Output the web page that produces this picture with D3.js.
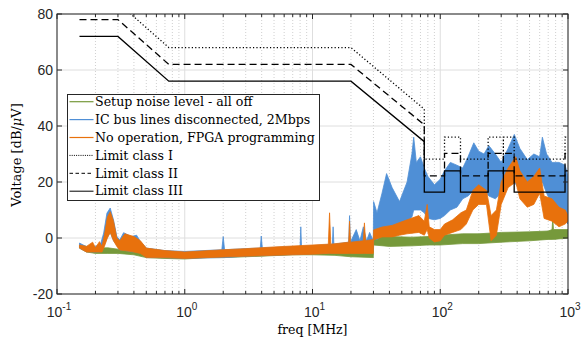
<!DOCTYPE html>
<html>
<head>
<meta charset="utf-8">
<script src="https://cdn.jsdelivr.net/npm/d3@7"></script>
<style>
  body { margin: 0; background: #fff; }
  svg { display: block; }
  .tick-label { font-family: "Liberation Sans", Arial, sans-serif; font-size: 14px; fill: #262626; }
  .serif { font-family: "DejaVu Serif", "Liberation Serif", serif; fill: #000; }
</style>
</head>
<body>
<svg id="chart" width="581" height="341"></svg>
<script>
// setup noise level (envelope: low / high edge of the trace)
const greenFreq = [0.15, 0.17, 0.2, 0.25, 0.3, 0.4, 0.5, 0.7, 1, 1.5, 2, 3, 5, 7, 10, 15, 20, 29.9, 30.1, 40, 60, 80, 100, 150, 200, 300, 500, 700, 750, 760, 770, 1000];
const greenLo = [-3.6, -5, -5.5, -5.5, -5.5, -6, -7, -7.3, -7.5, -7, -7, -6.7, -6.3, -6, -6, -6.2, -6.7, -7, -2.5, -3, -2.8, -2.5, -2.5, -2, -2, -1.5, -1, -0.5, -0.5, -0.5, -0.5, 0];
const greenHi = [-2.5, -3, -3.6, -3.5, -4, -4.5, -5, -5.5, -5.5, -5, -4.7, -4.2, -3.8, -3.5, -3.3, -3.3, -3.5, -3.8, 0.5, 0.5, 0.3, 0.5, 1, 1.5, 1.5, 2, 2.2, 2.5, 3, 7, 3, 3];

// IC bus lines disconnected, 2Mbps
const blueFreq = [0.15, 0.17, 0.2, 0.22, 0.232, 0.246, 0.261, 0.277, 0.294, 0.31, 0.332, 0.38, 0.42, 0.45, 0.5, 0.7, 1, 1.95, 2, 2.05, 3, 3.9, 3.97, 4.05, 6, 8, 8.1, 8.2, 12, 14.3, 14.5, 14.7, 19.2, 19.5, 19.8, 22, 23.5, 25, 26.5, 28, 29.9,
  30.1, 32, 35, 38, 42, 48, 55, 60, 62, 65, 70, 75, 80, 90, 100, 108, 120, 135, 150, 165, 183, 200, 220, 240, 270, 300, 340, 380, 420, 480, 540, 600, 630, 680, 750, 850, 950, 1000];
const blueLo = [-3.6, -4.9, -5, -4.9, -3, 0, 2, -1, -2.5, -4.3, -4.3, -4.9, -4.9, -5, -7, -7, -7.3, -7, -7, -7, -6.5, -6.3, -6.3, -6.3, -6, -5.8, -5.8, -5.8, -5.5, -5.3, -5.3, -5.3, -5, -5, -5, -5, -5, -5, -5, -5, -4.5,
  0, -0.5, 1, 4, 4, 4, 6, 7.5, 10, 10, 10, 9, 7, 6.5, 7, 8, 10, 11, 14, 15, 17, 18, 17, 15, 14, 16, 19, 20, 17, 16, 16, 18, 20, 16, 12, 8, 6, 5];
const blueHi = [-1.8, -3.1, -3, -2, 1.8, 8.9, 10.7, 6.4, 0.5, -0.7, 1.9, 0.5, 1, -1.3, -3.6, -4.5, -4.8, -4.2, 0.5, -4.2, -3.8, -3.6, 0.7, -3.6, -3.2, -3, 4, -3, -2.5, -2.2, 4, -2.2, -1.5, 8, -1.5, 3, -1, 4, -1, 2, -1,
  13, 9, 16, 23, 18, 13, 20, 30, 36, 27, 29, 25, 22, 19, 21, 24, 27, 26, 25, 29, 34, 31, 30, 33, 30, 27, 32, 37, 32, 28, 30, 29, 36, 30, 27, 27, 26, 22];

// No operation, FPGA programming
const orangeFreq = [0.15, 0.17, 0.19, 0.2, 0.215, 0.225, 0.235, 0.248, 0.261, 0.277, 0.294, 0.31, 0.34, 0.4, 0.45, 0.5, 0.7, 1, 2, 3, 5, 10, 13.3, 13.6, 13.9, 19.2, 19.5, 19.8, 25, 25.5, 26, 29.9,
  30.1, 35, 42, 48, 55, 68, 75, 79, 82, 90, 100, 108, 125, 145, 160, 180, 200, 230, 250, 275, 300, 340, 390, 420, 480, 540, 600, 650, 750, 850, 950, 1000];
const orangeLo = [-3.6, -5, -5, -5, -5, -5, -3, 0, 2, -1, -3, -4.3, -4.5, -5, -5.5, -7, -7, -7.3, -6.8, -6.5, -6.2, -5.8, -5.5, -5.5, -5.5, -5.5, -5.5, -5.5, -5.5, -5.5, -5.5, -5.5,
  -0.7, 0.4, 0.4, 1, 1.5, 2, 1, 3, 0, -1.4, -1, 1, 2, 3, 5, 10, 12, 12, -1, 1, 12, 18, 20, 14, 11, 12, 16, 7, 6, 4, 5, 6];
const orangeHi = [-2.5, -3, -1.5, -3.5, -1.3, -3, 1, 7.5, 9.4, 6, 0, -1, 1.5, 0.5, -1, -3.6, -4.5, -5, -4.2, -3.8, -3.2, -2.5, -2.2, 9, -2.2, -1.5, 6, -1.5, -1, 5.4, -1, -0.5,
  2.9, 3.9, 4.5, 5.5, 6.5, 8, 6, 12, 4, 3, 3, 5, 6.5, 9, 10, 17, 19, 17, 8, 10, 20, 25, 29, 24, 20, 22, 25, 15, 14, 11, 10, 8];

// limit classes (step mask)
const limitFreq = [0.15, 0.3, 0.75, 20, 75, 75, 108, 108, 144, 144, 237, 237, 312, 312, 312, 379, 379, 948, 948, 1000];
const limitI = [84, 84, 68, 68, 46, 28.2, 28.2, 36, 36, 28.2, 28.2, 36, 36, 28.2, 36, 36, 28.2, 28.2, 36, 36];
const limitII = [78, 78, 62, 62, 40.4, 22.2, 22.2, 30.2, 30.2, 22.2, 22.2, 30.2, 30.2, 22.2, 30.2, 30.2, 22.2, 22.2, 30.2, 30.2];
const limitIII = [72, 72, 56, 56, 34.4, 16.4, 16.4, 24, 24, 16.4, 16.4, 24, 24, 16.4, 24, 24, 16.4, 16.4, 24, 24];

const yTicks = [-20, 0, 20, 40, 60, 80];

const series = [
  { name: 'Setup noise level - all off', color: '#76993b', f: greenFreq, lo: greenLo, hi: greenHi },
  { name: 'IC bus lines disconnected, 2Mbps', color: '#4f8fd6', f: blueFreq, lo: blueLo, hi: blueHi },
  { name: 'No operation, FPGA programming', color: '#e8710c', f: orangeFreq, lo: orangeLo, hi: orangeHi },
];
const limits = [
  { name: 'Limit class I', v: limitI, dash: '1.2,2.2', legendDash: '1,1.2' },
  { name: 'Limit class II', v: limitII, dash: '7,4', legendDash: '3.5,2.5' },
  { name: 'Limit class III', v: limitIII, dash: null, legendDash: null },
];

const width = 581, height = 341;
const margin = { top: 14, right: 13, bottom: 47, left: 57 };
const innerWidth = width - margin.left - margin.right;
const innerHeight = height - margin.top - margin.bottom;

const svg = d3.select('#chart');
const grp = svg.append('g').attr('transform', `translate(${margin.left},${margin.top})`);

const xScale = d3.scaleLog().domain([0.1, 1000]).range([0, innerWidth]);
const yScale = d3.scaleLinear().domain([-20, 80]).range([innerHeight, 0]);

svg.append('defs').append('clipPath').attr('id', 'plot-clip')
  .append('rect').attr('width', innerWidth).attr('height', innerHeight);

// grid
const xAll = xScale.ticks();
const isMajor = (f) => Math.abs(Math.log10(f) - Math.round(Math.log10(f))) < 1e-9;
grp.append('g').selectAll('line')
  .data(xAll.filter((f) => !isMajor(f)))
  .enter().append('line')
  .attr('x1', (d) => xScale(d)).attr('x2', (d) => xScale(d))
  .attr('y1', 0).attr('y2', innerHeight)
  .attr('stroke', '#c4c4c4').attr('stroke-width', 0.8).attr('stroke-dasharray', '1,2');
grp.append('g').selectAll('line')
  .data(xAll.filter(isMajor))
  .enter().append('line')
  .attr('x1', (d) => xScale(d)).attr('x2', (d) => xScale(d))
  .attr('y1', 0).attr('y2', innerHeight)
  .attr('stroke', '#dedede').attr('stroke-width', 1);
grp.append('g').selectAll('line')
  .data(yTicks)
  .enter().append('line')
  .attr('x1', 0).attr('x2', innerWidth)
  .attr('y1', (d) => yScale(d)).attr('y2', (d) => yScale(d))
  .attr('stroke', '#dedede').attr('stroke-width', 1);

// measured traces
const plot = grp.append('g').attr('clip-path', 'url(#plot-clip)');
const band = d3.area()
  .x((d) => xScale(d.f))
  .y0((d) => yScale(d.lo))
  .y1((d) => yScale(d.hi));

series.forEach((s) => {
  const rows = s.f.map((f, i) => ({ f: f, lo: s.lo[i], hi: s.hi[i] }));
  plot.append('path')
    .datum(rows)
    .attr('d', band)
    .attr('fill', s.color)
    .attr('stroke', s.color)
    .attr('stroke-width', 0.8)
    .attr('stroke-linejoin', 'round');
});

// limit lines
const limitLine = d3.line()
  .x((d) => xScale(d[0]))
  .y((d) => yScale(d[1]));

limits.forEach((l) => {
  plot.append('path')
    .datum(limitFreq.map((f, i) => [f, l.v[i]]))
    .attr('d', limitLine)
    .attr('fill', 'none')
    .attr('stroke', '#000')
    .attr('stroke-width', 1.3)
    .attr('stroke-dasharray', l.dash);
});

// axes box + ticks (inside)
const axisColor = '#262626';
grp.append('rect')
  .attr('width', innerWidth).attr('height', innerHeight)
  .attr('fill', 'none').attr('stroke', axisColor).attr('stroke-width', 1);

const xt = grp.append('g');
xAll.forEach((f) => {
  const len = isMajor(f) ? 5 : 3;
  const px = xScale(f);
  xt.append('line').attr('x1', px).attr('x2', px).attr('y1', innerHeight).attr('y2', innerHeight - len).attr('stroke', axisColor);
  xt.append('line').attr('x1', px).attr('x2', px).attr('y1', 0).attr('y2', len).attr('stroke', axisColor);
});
yTicks.forEach((v) => {
  const py = yScale(v);
  xt.append('line').attr('x1', 0).attr('x2', 5).attr('y1', py).attr('y2', py).attr('stroke', axisColor);
  xt.append('line').attr('x1', innerWidth).attr('x2', innerWidth - 5).attr('y1', py).attr('y2', py).attr('stroke', axisColor);
});

// tick labels
grp.append('g').selectAll('text')
  .data(yTicks)
  .enter().append('text')
  .attr('class', 'tick-label')
  .attr('x', -4)
  .attr('y', (d) => yScale(d))
  .attr('dy', '0.36em')
  .attr('text-anchor', 'end')
  .text((d) => d);

const xl = grp.append('g').selectAll('text')
  .data(xAll.filter(isMajor))
  .enter().append('text')
  .attr('class', 'tick-label')
  .attr('x', (d) => xScale(d) + 2)
  .attr('y', innerHeight + 22.5)
  .attr('text-anchor', 'middle');
xl.append('tspan').text('10');
xl.append('tspan')
  .attr('dy', -6.5)
  .attr('font-size', '10px')
  .text((d) => Math.round(Math.log10(d)));

// axis labels
svg.append('text')
  .attr('class', 'serif')
  .attr('x', margin.left + innerWidth / 2)
  .attr('y', 334)
  .attr('text-anchor', 'middle')
  .attr('font-size', '12.5px')
  .text('freq [MHz]');

const yl = svg.append('text')
  .attr('class', 'serif')
  .attr('transform', 'translate(21,155) rotate(-90)')
  .attr('text-anchor', 'middle')
  .attr('font-size', '13px');
yl.append('tspan').text('Voltage [dB/');
yl.append('tspan').attr('font-style', 'italic').text('\u03bc');
yl.append('tspan').text('V]');

// legend
const lg = svg.append('g').attr('transform', 'translate(67.5,94.5)');
lg.append('rect')
  .attr('width', 252).attr('height', 106)
  .attr('fill', '#fff').attr('stroke', axisColor).attr('stroke-width', 1);

const legendItems = series.map((s) => ({ name: s.name, color: s.color, dash: null, w: 1.2 }))
  .concat(limits.map((l) => ({ name: l.name, color: '#000', dash: l.legendDash, w: 1 })));

const rowsG = lg.selectAll('g.item')
  .data(legendItems)
  .enter().append('g')
  .attr('class', 'item')
  .attr('transform', (d, i) => `translate(0,${7.2 + i * 17.9})`);
rowsG.append('line')
  .attr('x1', 2).attr('x2', 26)
  .attr('stroke', (d) => d.color)
  .attr('stroke-width', (d) => d.w)
  .attr('stroke-dasharray', (d) => d.dash);
rowsG.append('text')
  .attr('class', 'serif')
  .attr('x', 27.5)
  .attr('dy', '0.34em')
  .attr('font-size', '12.6px')
  .text((d) => d.name);
</script>
</body>
</html>
